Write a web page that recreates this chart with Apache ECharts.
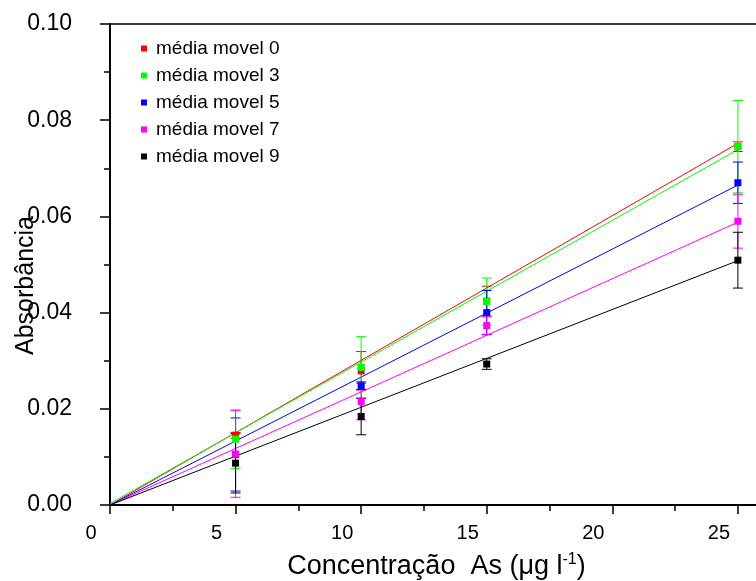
<!DOCTYPE html>
<html>
<head>
<meta charset="utf-8">
<script src="https://cdn.jsdelivr.net/npm/echarts@6/dist/echarts.min.js"></script>
<style>
html,body{margin:0;padding:0;background:#fff;}
#chart{width:756px;height:581px;}
</style>
</head>
<body>
<div id="chart"></div>
<script>
// ---- data ----
var concentrations = [5, 10, 15, 25];
var seriesNames = ['média movel 0', 'média movel 3', 'média movel 5', 'média movel 7', 'média movel 9'];
var seriesColors = ['#ff0000', '#00ff00', '#0000ff', '#ff00ff', '#000000'];
var mm0 = [0.0145, 0.0279, 0.0424, 0.0745];
var mm3 = [0.0137, 0.0286, 0.0423, 0.0745];
var mm5 = [0.0105, 0.0248, 0.0400, 0.0670];
var mm7 = [0.0106, 0.0215, 0.0373, 0.0590];
var mm9 = [0.0087, 0.0184, 0.0293, 0.0509];
var err0 = [0.0006, 0.0040, 0.0031, 0.0010];
var err3 = [0.0061, 0.0064, 0.0049, 0.0096];
var err5 = [0.0076, 0.0008, 0.0046, 0.0043];
var err7 = [0.0090, 0.0038, 0.0018, 0.0056];
var err9 = [0.0062, 0.0038, 0.0011, 0.0058];
// linear fit lines: value at x = 0 and at x = 25
var fitX = [0, 25];
var fit0 = [0.0000, 0.0752];
var fit3 = [0.0003, 0.0739];
var fit5 = [0.0000, 0.0665];
var fit7 = [0.0000, 0.0588];
var fit9 = [0.0000, 0.0508];
var xTicks = [0, 5, 10, 15, 20, 25];

var values = [mm0, mm3, mm5, mm7, mm9];
var errors = [err0, err3, err5, err7, err9];
var fits = [fit0, fit3, fit5, fit7, fit9];

var FONT = 'Liberation Sans, Arial, sans-serif';
var series = [];
for (var s = 0; s < 5; s++) {
  (function (s) {
    var col = seriesColors[s];
    series.push({
      name: seriesNames[s], type: 'line', symbol: 'none', silent: true,
      lineStyle: {color: col, width: 1}, itemStyle: {color: col},
      data: fitX.map(function (x, i) { return [x, fits[s][i]]; }),
      z: 2
    });
    series.push({
      name: seriesNames[s], type: 'custom', silent: true,
      itemStyle: {color: col},
      data: concentrations.map(function (x, i) { return [x, values[s][i], errors[s][i]]; }),
      encode: {x: 0, y: 1},
      renderItem: function (params, api) {
        var x = api.value(0), y = api.value(1), e = api.value(2);
        var hi = api.coord([x, y + e]);
        var lo = api.coord([x, y - e]);
        var hw = 5;
        var st = {stroke: col, lineWidth: 1};
        return {
          type: 'group',
          children: [
            {type: 'line', shape: {x1: hi[0], y1: hi[1], x2: lo[0], y2: lo[1]}, style: st},
            {type: 'line', shape: {x1: hi[0] - hw, y1: hi[1], x2: hi[0] + hw, y2: hi[1]}, style: st},
            {type: 'line', shape: {x1: lo[0] - hw, y1: lo[1], x2: lo[0] + hw, y2: lo[1]}, style: st}
          ]
        };
      },
      z: 3
    });
    series.push({
      name: seriesNames[s], type: 'scatter', symbol: 'rect', symbolSize: 7, silent: true,
      itemStyle: {color: col, opacity: 1},
      data: concentrations.map(function (x, i) { return [x, values[s][i]]; }),
      z: 4
    });
  })(s);
}

var chart = echarts.init(document.getElementById('chart'), null, {renderer: 'canvas'});
chart.setOption({
  animation: false,
  backgroundColor: '#ffffff',
  textStyle: {fontFamily: FONT},
  grid: {left: 110, top: 24, width: 653, bottom: 76, containLabel: false, outerBoundsMode: 'none'},
  legend: {
    orient: 'vertical', left: 136, top: 34, itemWidth: 6, itemHeight: 6, itemGap: 8,
    icon: 'rect', selectedMode: false,
    data: seriesNames.map(function (n, i) { return {name: n, icon: 'rect', itemStyle: {color: seriesColors[i]}}; }),
    textStyle: {fontFamily: FONT, fontSize: 19, color: '#000', padding: [0, 0, 0, 4]}
  },
  xAxis: [{
    type: 'value', min: 0, max: 26, interval: 5,
    name: 'Concentração  As (μg l{sup|-1})',
    nameLocation: 'middle', nameGap: 47, nameMoveOverlap: false,
    nameTextStyle: {fontFamily: FONT, fontSize: 27, color: '#000',
      rich: {sup: {fontFamily: FONT, fontSize: 16, color: '#000', padding: [0, 0, 14, 0]}}},
    axisLine: {lineStyle: {color: '#000', width: 2}},
    axisTick: {inside: false, length: 9, lineStyle: {color: '#000', width: 1.5}},
    minorTick: {show: true, splitNumber: 2, length: 6, lineStyle: {color: '#000', width: 1.5}},
    splitLine: {show: false},
    axisLabel: {fontFamily: FONT, fontSize: 20, color: '#000', margin: 18, padding: [0, 38, 0, 0],
      formatter: function (v) { return xTicks.indexOf(v) >= 0 ? String(v) : ''; }}
  }, {
    type: 'value', position: 'top', min: 0, max: 26,
    axisLine: {show: true, lineStyle: {color: '#000', width: 1.5}},
    axisTick: {show: false}, axisLabel: {show: false}, splitLine: {show: false}
  }],
  yAxis: {
    type: 'value', min: 0, max: 0.1, interval: 0.02,
    name: 'Absorbância', nameLocation: 'middle', nameGap: 71, nameMoveOverlap: false,
    nameTextStyle: {fontFamily: FONT, fontSize: 25, color: '#000', padding: [0, 42, 0, 0]},
    axisLine: {show: true, lineStyle: {color: '#000', width: 2}},
    axisTick: {inside: false, length: 10, lineStyle: {color: '#000', width: 1.5}},
    minorTick: {show: true, splitNumber: 2, length: 6, lineStyle: {color: '#000', width: 1.5}},
    splitLine: {show: false},
    axisLabel: {fontFamily: FONT, fontSize: 23, color: '#000', margin: 38,
      formatter: function (v) { return v.toFixed(2); }}
  },
  series: series
});
</script>
</body>
</html>
